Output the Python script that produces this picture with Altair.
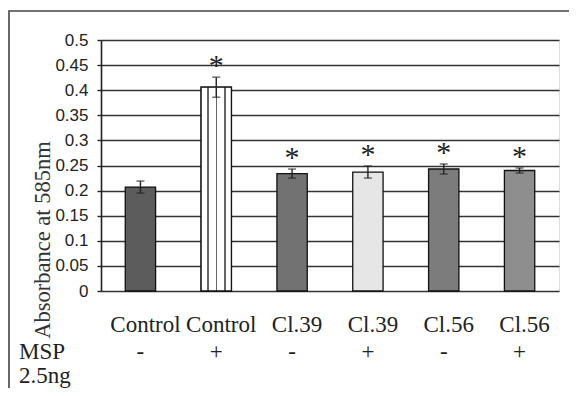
import altair as alt
import pandas as pd

keys = ["c-", "c+", "39-", "39+", "56-", "56+"]
names = ["Control", "Control", "Cl.39", "Cl.39", "Cl.56", "Cl.56"]
signs = ["-", "+", "-", "+", "-", "+"]
means = [0.207, 0.406, 0.234, 0.237, 0.243, 0.240]
errs = [0.012, 0.020, 0.009, 0.012, 0.010, 0.005]
stars = ["", "*", "*", "*", "*", "*"]
fills = ["#5c5c5c", "#f4f4f4", "#727272", "#e6e6e6", "#7c7c7c", "#8e8e8e"]
y_ticks = [0, 0.05, 0.1, 0.15, 0.2, 0.25, 0.3, 0.35, 0.4, 0.45, 0.5]
row_labels = ["MSP", "2.5ng"]
y_title = "Absorbance at 585nm"

df = pd.DataFrame(dict(key=keys, name=names, sign=signs, mean=means, err=errs, star=stars))

x = alt.X("key:N", sort=keys, scale=alt.Scale(paddingInner=0.6, paddingOuter=0.32), axis=None)
yscale = alt.Scale(domain=[0, 0.5], nice=False)
yaxis = alt.Axis(values=y_ticks, format="~g", grid=True, gridColor="#333",
                 gridWidth=1.6, domainColor="#222", domainWidth=1.6,
                 tickColor="#222", tickSize=4, tickWidth=1.4,
                 labelFont="Liberation Sans", labelFontSize=17, labelColor="#222",
                 labelPadding=9, labelOverlap=False)


def Y(field):
    return alt.Y(field, scale=yscale, title=None, axis=yaxis)


base = alt.Chart(df).transform_calculate(
    lo="datum.mean - datum.err", hi="datum.mean + datum.err"
)

bars = base.mark_bar(stroke="#111", strokeWidth=1.3).encode(
    x=x,
    y=Y("mean:Q"),
    fill=alt.Fill("key:N", scale=alt.Scale(domain=keys, range=fills), legend=None),
)

stripes = alt.Gradient(
    gradient="linear", x1=0, x2=1, y1=0, y2=0,
    stops=[
        alt.GradientStop(offset=0.0, color="#ffffff"),
        alt.GradientStop(offset=0.2, color="#ffffff"),
        alt.GradientStop(offset=0.2, color="#666666"),
        alt.GradientStop(offset=0.25, color="#666666"),
        alt.GradientStop(offset=0.25, color="#ffffff"),
        alt.GradientStop(offset=0.48, color="#ffffff"),
        alt.GradientStop(offset=0.48, color="#666666"),
        alt.GradientStop(offset=0.53, color="#666666"),
        alt.GradientStop(offset=0.53, color="#ffffff"),
        alt.GradientStop(offset=0.76, color="#ffffff"),
        alt.GradientStop(offset=0.76, color="#666666"),
        alt.GradientStop(offset=0.81, color="#666666"),
        alt.GradientStop(offset=0.81, color="#ffffff"),
        alt.GradientStop(offset=1.0, color="#ffffff"),
    ],
)
striped = base.transform_filter(alt.datum.key == "c+").mark_bar(
    fill=stripes, stroke="#111", strokeWidth=1.3
).encode(x=x, y=Y("mean:Q"))

err_rule = base.mark_rule(color="#222", strokeWidth=1.4).encode(
    x=x, y=Y("lo:Q"), y2="hi:Q"
)
cap_hi = base.mark_tick(color="#222", thickness=1.4, size=8).encode(x=x, y=Y("hi:Q"))
cap_lo = base.mark_tick(color="#222", thickness=1.4, size=8).encode(x=x, y=Y("lo:Q"))
star_txt = base.mark_text(font="Liberation Serif", fontSize=30, baseline="alphabetic",
                          color="#222", dy=-2).encode(x=x, y=Y("hi:Q"), text="star:N")

name_txt = base.mark_text(font="Liberation Serif", fontSize=23, baseline="alphabetic",
                          color="#222", dx=5).encode(x=x, y=alt.value(292), text="name:N")
sign_txt = base.mark_text(font="Liberation Serif", fontSize=23, baseline="alphabetic",
                          color="#222").encode(x=x, y=alt.value(319), text="sign:N")
msp_txt = alt.Chart(pd.DataFrame({"t": [row_labels[0]]})).mark_text(
    font="Liberation Serif", fontSize=23, baseline="alphabetic", align="left", color="#222"
).encode(x=alt.value(-82), y=alt.value(319), text="t:N")
ng_txt = alt.Chart(pd.DataFrame({"t": [row_labels[1]]})).mark_text(
    font="Liberation Serif", fontSize=23, baseline="alphabetic", align="left", color="#222"
).encode(x=alt.value(-82), y=alt.value(343), text="t:N")
title_txt = alt.Chart(pd.DataFrame({"t": [y_title]})).mark_text(
    font="Liberation Serif", fontSize=22.5, baseline="middle", align="center",
    angle=270, color="#333"
).encode(x=alt.value(-58), y=alt.value(200), text="t:N")

border = alt.Chart(pd.DataFrame({"b": [0]})).mark_rect(
    fill="#ffffff", fillOpacity=0, stroke="#444", strokeWidth=1.6
).encode(x=alt.value(-92), x2=alt.value(480), y=alt.value(-29), y2=alt.value(420))

chart = alt.layer(
    bars, striped, err_rule, cap_hi, cap_lo, star_txt,
    name_txt, sign_txt, msp_txt, ng_txt, title_txt, border
).properties(
    width=458, height=251,
    padding={"left": 93, "top": 32, "right": 10, "bottom": 97},
    autosize=alt.AutoSizeParams(type="none"),
).configure_view(strokeWidth=0).configure(background="white")

chart.save("out.html", embed_options={"renderer": "svg", "actions": False})
